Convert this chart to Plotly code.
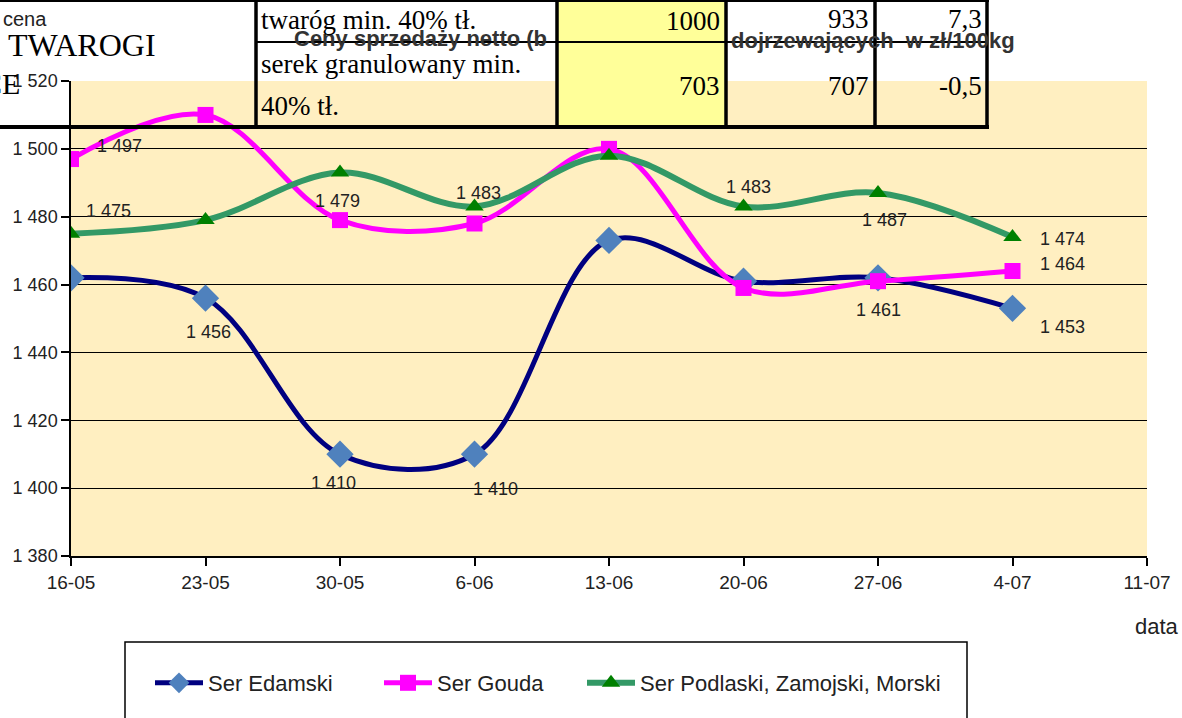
import plotly.graph_objects as go

# ---------------- data ----------------
dates = ["16-05", "23-05", "30-05", "6-06", "13-06", "20-06", "27-06", "4-07", "11-07"]
edamski = [1462, 1456, 1410, 1410, 1473, 1461, 1462, 1453]
gouda = [1497, 1510, 1479, 1478, 1500, 1459, 1461, 1464]
podlaski = [1475, 1479, 1493, 1483, 1498, 1483, 1487, 1474]
series_names = ["Ser Edamski", "Ser Gouda", "Ser Podlaski, Zamojski, Morski"]

# which points carry a data label, and label offsets in px (dx, dy)
labels_edamski = {1: (3, 34), 2: (-7, 29), 3: (21, 35), 7: (50, 19)}
labels_gouda = {0: (48, -13), 2: (-3, -19), 6: (0, 29), 7: (50, -7)}
labels_podlaski = {0: (37, -23), 3: (4, -14), 5: (5, -20), 6: (6, 27), 7: (50, 2)}

# overlapping table fragment (from underlying document)
table_row1 = ["twaróg min. 40% tł.", "1000", "933", "7,3"]
table_row2 = ["serek granulowany min.", "40% tł.", "703", "707", "-0,5"]

title_left = "Ceny sprzedaży netto (b"
title_right = "dojrzewających  w zł/100kg"

# ---------------- layout helpers ----------------
W_FIG, H_FIG = 1182, 718
L, R, T, B = 71, 1147, 81, 556


def px(x):
    return (x - L) / (R - L)


def py(y):
    return (B - y) / (B - T)


SANS = "Liberation Sans, Arial, sans-serif"
SERIF = "Liberation Serif, Times New Roman, serif"


def fmt(v):
    return f"{v:,}".replace(",", " ")


fig = go.Figure()

xs = dates[:8]
fig.add_trace(go.Scatter(
    x=xs, y=edamski, name=series_names[0], mode="lines+markers", legend="legend",
    line=dict(color="#000080", width=5, shape="spline", smoothing=1.0),
    marker=dict(symbol="diamond", size=21, color="#4F81BD"),
))
fig.add_trace(go.Scatter(
    x=xs, y=gouda, name=series_names[1], mode="lines+markers", legend="legend2",
    line=dict(color="#FF00FF", width=5, shape="spline", smoothing=1.0),
    marker=dict(symbol="square", size=16, color="#FF00FF"),
))
fig.add_trace(go.Scatter(
    x=xs, y=podlaski, name=series_names[2], mode="lines+markers", legend="legend3",
    line=dict(color="#339966", width=6, shape="spline", smoothing=1.0),
    marker=dict(symbol="triangle-up", size=16, color="#008000"),
))

annotations = []
for vals, labs in ((edamski, labels_edamski), (gouda, labels_gouda), (podlaski, labels_podlaski)):
    for i, (dx, dy) in labs.items():
        annotations.append(dict(
            x=xs[i], y=vals[i], xref="x", yref="y", text=fmt(vals[i]),
            showarrow=False, xshift=dx, yshift=-dy,
            font=dict(family=SANS, size=18, color="#222222"),
        ))

# axis titles
annotations.append(dict(x=px(1), y=py(19), xref="paper", yref="paper", text="cena",
                        showarrow=False, xanchor="left", yanchor="middle",
                        font=dict(family=SANS, size=20, color="#222222")))
annotations.append(dict(x=px(1181), y=py(626), xref="paper", yref="paper", text="data",
                        showarrow=False, xanchor="right", yanchor="middle",
                        font=dict(family=SANS, size=22, color="#222222")))

# chart title fragments (rest hidden by the yellow table cell)
annotations.append(dict(x=px(292), y=py(39), xref="paper", yref="paper", text=title_left,
                        showarrow=False, xanchor="left", yanchor="middle",
                        font=dict(family=SANS, size=22, color="#333333", weight="bold")))
annotations.append(dict(x=px(729), y=py(40), xref="paper", yref="paper", text=title_right,
                        showarrow=False, xanchor="left", yanchor="middle",
                        font=dict(family=SANS, size=22, color="#333333", weight="bold")))

# underlying document text
annotations.append(dict(x=px(6), y=py(45), xref="paper", yref="paper", text="TWAROGI",
                        showarrow=False, xanchor="left", yanchor="middle",
                        font=dict(family=SERIF, size=32, color="#000000")))
annotations.append(dict(x=px(22), y=py(84), xref="paper", yref="paper", text="CE",
                        showarrow=False, xanchor="right", yanchor="middle",
                        font=dict(family=SERIF, size=30, color="#000000")))

# table cell texts
cell_font = dict(family=SERIF, size=27, color="#000000")
annotations += [
    dict(x=px(259), y=py(20), text=table_row1[0], xanchor="left"),
    dict(x=px(722), y=py(21), text=table_row1[1], xanchor="right"),
    dict(x=px(871), y=py(19), text=table_row1[2], xanchor="right"),
    dict(x=px(984), y=py(19), text=table_row1[3], xanchor="right"),
    dict(x=px(259), y=py(64), text=table_row2[0], xanchor="left"),
    dict(x=px(259), y=py(106), text=table_row2[1], xanchor="left"),
    dict(x=px(722), y=py(86), text=table_row2[2], xanchor="right"),
    dict(x=px(871), y=py(86), text=table_row2[3], xanchor="right"),
    dict(x=px(984), y=py(86), text=table_row2[4], xanchor="right"),
]
for a in annotations[-9:]:
    a.update(xref="paper", yref="paper", showarrow=False, yanchor="middle", font=cell_font)

shapes = []
# yellow opaque cell
shapes.append(dict(type="rect", xref="paper", yref="paper", layer="above",
                   x0=px(557), x1=px(726), y0=py(127), y1=py(0),
                   fillcolor="#FFFF99", line=dict(width=0)))


def hline(x0, x1, y, w):
    shapes.append(dict(type="line", xref="paper", yref="paper", layer="above",
                       x0=px(x0), x1=px(x1), y0=py(y), y1=py(y),
                       line=dict(color="#000000", width=w)))


def vline(x, y0, y1, w):
    shapes.append(dict(type="line", xref="paper", yref="paper", layer="above",
                       x0=px(x), x1=px(x), y0=py(y0), y1=py(y1),
                       line=dict(color="#000000", width=w)))


hline(0, 989, 1, 2)
hline(256, 988, 42, 2)
hline(0, 989, 127, 4)
vline(256, 0, 128, 3.5)
vline(557, 0, 128, 3.5)
vline(726, 0, 128, 3.5)
vline(875, 0, 128, 3.5)
vline(987, 0, 128, 3.5)

# legend frame
shapes.append(dict(type="rect", xref="paper", yref="paper", layer="above",
                   x0=px(125), x1=px(967), y0=py(730), y1=py(642),
                   line=dict(color="#000000", width=1.5), fillcolor="rgba(0,0,0,0)"))


def legend_at(text_start_px):
    return dict(orientation="h", xref="container", yref="container",
                x=(text_start_px - 58) / W_FIG, y=1 - 683 / H_FIG,
                xanchor="left", yanchor="middle",
                font=dict(family=SANS, size=22, color="#222222"),
                itemwidth=48, bgcolor="rgba(0,0,0,0)", borderwidth=0)


fig.update_layout(
    width=W_FIG, height=H_FIG,
    margin=dict(l=L, r=W_FIG - R, t=T, b=H_FIG - B, autoexpand=False),
    paper_bgcolor="#FFFFFF",
    plot_bgcolor="#FFEFC1",
    separators=", ",
    showlegend=True,
    legend=legend_at(208),
    legend2=legend_at(437),
    legend3=legend_at(640),
    annotations=annotations,
    shapes=shapes,
)
fig.update_xaxes(
    type="category", categoryorder="array", categoryarray=dates,
    range=[0, 8], showgrid=False, zeroline=False, automargin=False,
    showline=True, linecolor="#000000", linewidth=1.5,
    ticks="outside", ticklen=8, tickcolor="#000000", tickwidth=1.5,
    tickmode="array", tickvals=dates, ticktext=dates,
    tickfont=dict(family=SANS, size=19, color="#222222"),
)
fig.update_yaxes(
    range=[1380, 1520], dtick=20, tickformat=",d", automargin=False,
    showgrid=True, gridcolor="#000000", gridwidth=1.2, zeroline=False,
    showline=True, linecolor="#000000", linewidth=1.5,
    ticks="outside", ticklen=8, tickcolor="#000000", tickwidth=1.5,
    tickfont=dict(family=SANS, size=18, color="#222222"),
)

fig.write_html("out.html", config={"displayModeBar": False},
               post_script="document.body.style.margin='0';document.body.style.padding='0';")
